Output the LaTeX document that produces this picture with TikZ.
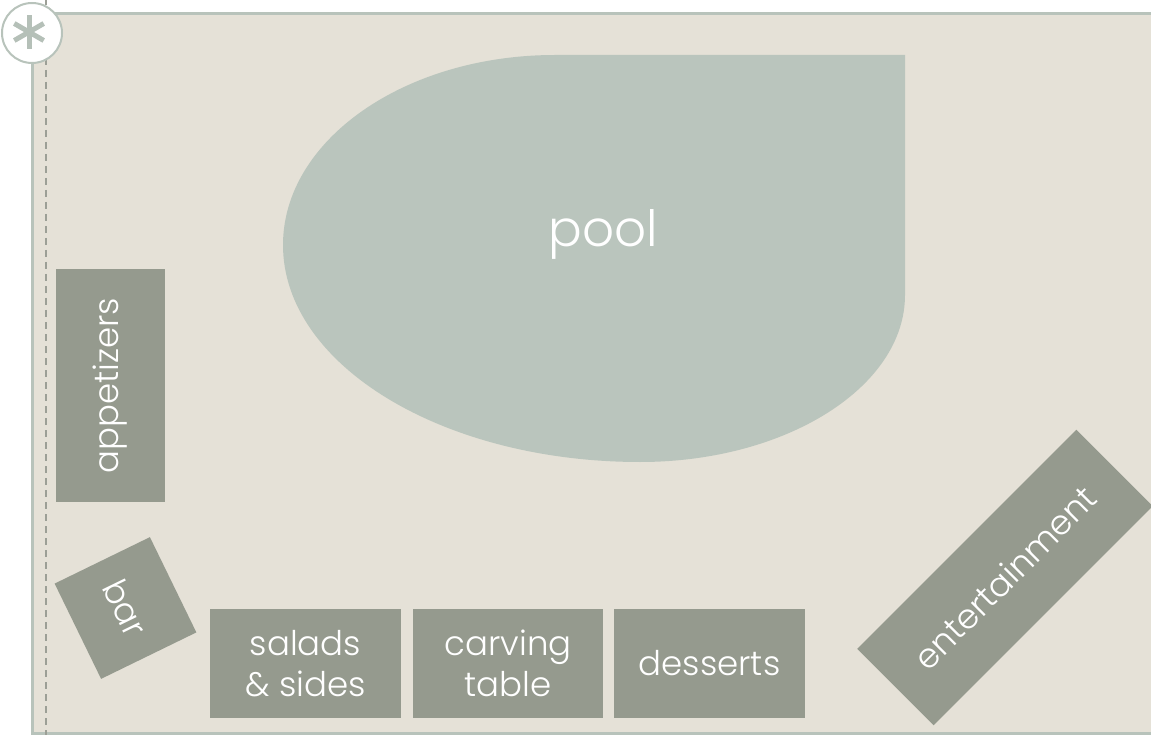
\documentclass[tikz,border=0pt]{standalone}
\usepackage{fontspec}
\IfFontExistsTF{Poppins Light}{\setmainfont{Poppins Light}}{\setmainfont{Poppins}}
\usetikzlibrary{calc}
\definecolor{bgc}{HTML}{E5E1D7}
\definecolor{poolc}{HTML}{BAC5BD}
\definecolor{tablec}{HTML}{959A8E}
\definecolor{framec}{HTML}{B8C3BB}
\definecolor{astc}{HTML}{B5C0B8}
\definecolor{dashc}{HTML}{9C9F96}
\begin{document}
\begin{tikzpicture}[x=1pt,y=-1pt,
  tablebox/.style={fill=tablec, text=white, inner sep=0pt, align=center,
    font=\fontsize{34}{41}\selectfont},
  poollabel/.style={text=white, font=\fontsize{50}{58}\selectfont}]
\useasboundingbox (0,0) rectangle (1151,735);
\clip (0,0) rectangle (1151,735);
% ground and frame
\fill[bgc] (32,14) rectangle (1170,733);
\draw[framec, line width=3pt] (32,14) rectangle (1170,733);
% dashed margin line
\draw[dashc, line width=2pt, dash pattern=on 7pt off 5pt] (46,-2) -- (46,737);
% pool
\fill[poolc] (905,55) -- (555,55)
  .. controls (405,55) and (283,140) .. (283,245)
  .. controls (283,365) and (443,462) .. (640,462)
  .. controls (786,462) and (905,387) .. (905,295) -- cycle;
\node[poollabel] (pool) at (603,234) {pool};
% tables
\node[tablebox, minimum width=233pt, minimum height=109pt, rotate=90] (app) at (110.5,385.5) {appetizers};
\node[tablebox, minimum width=106pt, minimum height=106pt, rotate=-64] (bar) at (125.5,608) {bar};
\node[tablebox, minimum width=191pt, minimum height=109pt] (salads) at (305.5,663.5) {salads\\\& sides};
\node[tablebox, minimum width=190pt, minimum height=109pt] (carving) at (508,663.5) {carving\\table};
\node[tablebox, minimum width=191pt, minimum height=109pt] (desserts) at (709.5,663.5) {desserts};
\node[tablebox, minimum width=310pt, minimum height=108pt, rotate=45] (ent) at (1005,577.5) {entertainment};
% corner badge
\node[circle, draw=framec, line width=2pt, fill=white, minimum size=60pt, inner sep=0pt] (badge) at (32,33) {};
\coordinate (ast) at (29,32);
\foreach \a in {90,30,150} {
  \draw[astc, line width=5pt] ($(ast)+(\a:17)$) -- ($(ast)+(\a+180:17)$);
}
\end{tikzpicture}
\end{document}
